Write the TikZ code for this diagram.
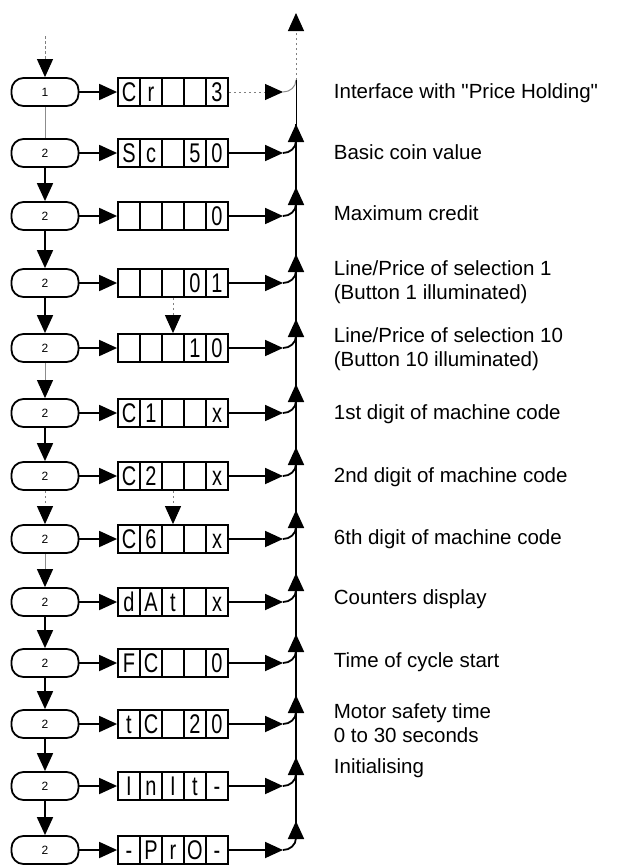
\documentclass[tikz,border=0pt]{standalone}
\usepackage{fontspec}
\setmainfont{Liberation Sans}
\newfontfamily\labfont{Liberation Sans}
\newfontfamily\segfont[FakeStretch=0.74]{Liberation Sans}
\usepackage{tikz}
\usetikzlibrary{arrows.meta, positioning}
\def\pillX{45}
\def\boxX{118}
\def\cellW{22}
\def\tipX{283}
\def\busX{296}
\def\labelX{333}
\newcommand{\cellchar}[4]{%
% #1 = row, #2 = cell, #3 = y, #4 = character
\if\relax\detokenize{#4}\relax\else
\node[seg] (c#1-#2) at ({\boxX+\cellW*(#2-0.5)},#3) {#4};
\fi
}
\newcommand{\display}[8]{%
% #1 = row, #2 = y, #3 = key, #4..#8 = the five cells
\node[pill] (p#1) at (\pillX,#2) {#3};
\node[dbox] (d#1) at ({\boxX+2.5*\cellW},#2) {};
\foreach \k in {1,...,4}
  \draw[divider] ({\boxX+\cellW*\k},{#2-14}) -- ({\boxX+\cellW*\k},{#2+14});
\cellchar{#1}{1}{#2}{#4}
\cellchar{#1}{2}{#2}{#5}
\cellchar{#1}{3}{#2}{#6}
\cellchar{#1}{4}{#2}{#7}
\cellchar{#1}{5}{#2}{#8}
\draw[->] (p#1) -- (d#1);
% end points towards the bus
\coordinate (j#1) at (\tipX,#2);
\coordinate (b#1) at (\busX,{#2-12});
\coordinate (t#1) at (\busX,{#2-29});
}

\begin{document}
\begin{tikzpicture}[
    x=1pt, y=-1pt,
    line width=1.8pt,
    >={Triangle[length=18pt,width=16pt,color=black]},
    pill/.style={draw, rounded corners=12pt, minimum width=67pt, minimum height=28pt,
      inner sep=0pt, font=\fontsize{12}{12}\selectfont},
    dbox/.style={draw, minimum width=110pt, minimum height=28pt, inner sep=0pt},
    divider/.style={line width=1.3pt},
    seg/.style={inner sep=0pt, text height=19.5pt, text depth=0pt,
      font=\segfont\fontsize{27}{27}\selectfont},
    grayline/.style={draw=black!45, line width=1pt},
    graydash/.style={draw=black!50, line width=1pt, dash pattern=on 2.5pt off 2.5pt},
    lab/.style={anchor=west, inner sep=0pt, align=left,
      font=\labfont\fontsize{20.5}{23.5}\selectfont}
]
\useasboundingbox (0,0) rectangle (624,868);

\display{1}{92}{1}{C}{r}{}{}{3}
\display{2}{153}{2}{S}{c}{}{5}{0}
\display{3}{216}{2}{}{}{}{}{0}
\display{4}{283}{2}{}{}{}{0}{1}
\display{5}{348}{2}{}{}{}{1}{0}
\display{6}{413}{2}{C}{1}{}{}{x}
\display{7}{476}{2}{C}{2}{}{}{x}
\display{8}{539}{2}{C}{6}{}{}{x}
\display{9}{602}{2}{d}{A}{t}{}{x}
\display{10}{663}{2}{F}{C}{}{}{0}
\display{11}{724}{2}{t}{C}{}{2}{0}
\display{12}{786}{2}{I}{n}{I}{t}{-}
\display{13}{850}{2}{-}{P}{r}{O}{-}

% key sequence
\coordinate (in) at (\pillX,36);
\draw[graydash, ->] (in) -- (p1);
\draw[grayline] (p1) -- (p2);
\draw[->] (p2) -- (p3);
\draw[->] (p3) -- (p4);
\draw[->] (p4) -- (p5);
\draw[grayline, ->] (p5) -- (p6);
\draw[->] (p6) -- (p7);
\draw[graydash, ->] (p7) -- (p8);
\draw[grayline, ->] (p8) -- (p9);
\foreach \r [evaluate=\r as \s using int(\r+1)] in {9,...,12}
  \draw[->] (p\r) -- (p\s);

% skipped displays
\draw[graydash, ->] (d4) -- (d5);
\draw[graydash, ->] (d7) -- (d8);

% bus on the right
\coordinate (top) at (\busX,13);
\draw[graydash, ->] (d1) -- (j1);
\draw[grayline] (j1) to[out=0, in=-90] (b1);
\draw[graydash, ->] (b1) -- (top);
\draw[line width=1pt] (t2) -- (b1);
\draw (b13) -- (t2);
\foreach \r in {2,...,13} {
  \draw[->] (d\r) -- (j\r);
  \draw (j\r) to[out=0, in=-90] (b\r);
  \draw[->] (b\r) -- (t\r);
}

% labels
\node[lab] (l1) at (\labelX,93) {Interface with "Price Holding"};
\node[lab] (l2) at (\labelX,152) {Basic coin value};
\node[lab] (l3) at (\labelX,213) {Maximum credit};
\node[lab] (l4) at (\labelX,282) {Line/Price of selection 1\\(Button 1 illuminated)};
\node[lab] (l5) at (\labelX,349) {Line/Price of selection 10\\(Button 10 illuminated)};
\node[lab] (l6) at (\labelX,414) {1st digit of machine code};
\node[lab] (l7) at (\labelX,477) {2nd digit of machine code};
\node[lab] (l8) at (\labelX,539) {6th digit of machine code};
\node[lab] (l9) at (\labelX,599) {Counters display};
\node[lab] (l10) at (\labelX,662) {Time of cycle start};
\node[lab] (l11) at (\labelX,723) {Motor safety time\\0 to 30 seconds};
\node[lab] (l12) at (\labelX,768) {Initialising};
\end{tikzpicture}
\end{document}
